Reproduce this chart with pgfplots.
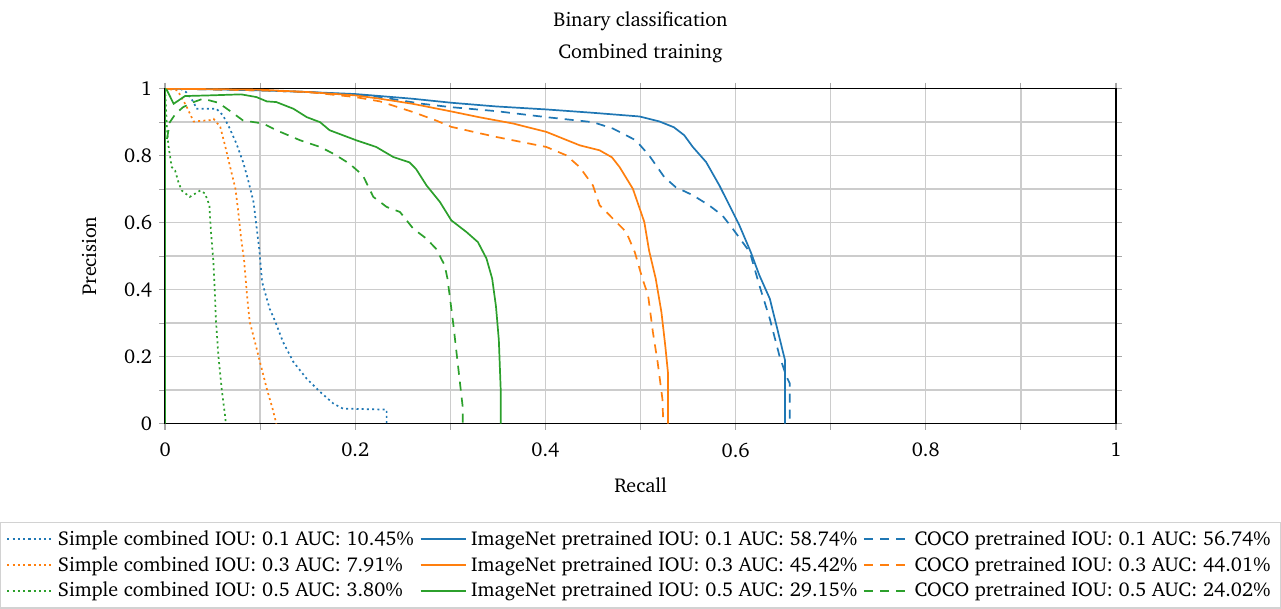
\documentclass[border=0pt]{standalone}
\usepackage[T1]{fontenc}
\renewcommand{\rmdefault}{bch}
\usepackage{pgfplots}
\pgfplotsset{compat=1.18}
\definecolor{cblue}{HTML}{1F77B4}
\definecolor{corange}{HTML}{FF7F0E}
\definecolor{cgreen}{HTML}{2CA02C}
\begin{document}
\begin{tikzpicture}
\begin{axis}[
  scale only axis,
  width=474pt, height=167pt,
  xmin=0, xmax=1, ymin=0, ymax=1,
  xtick={0,0.2,0.4,0.6,0.8,1},
  ytick={0,0.2,0.4,0.6,0.8,1},
  minor xtick={0.1,0.3,0.5,0.7,0.9},
  minor ytick={0.1,0.3,0.5,0.7,0.9},
  xticklabels={0,0.2,0.4,0.6,0.8,1},
  yticklabels={0,0.2,0.4,0.6,0.8,1},
  grid=both,
  grid style={gray!40, line width=0.7pt},
  minor grid style={gray!40, line width=0.7pt},
  tick align=outside,
  major tick length=3pt, minor tick length=3pt,
  tick style={gray!70, line width=0.6pt},
  axis line style={black, line width=0.6pt},
  /pgf/number format/assume math mode=true,
  xticklabel style={yshift=-3pt},
  xlabel={Recall}, ylabel={Precision},
  xlabel style={yshift=-3pt},
  ylabel style={yshift=7pt},
  title={Binary classification\\[4pt]Combined training},
  title style={align=center, inner sep=6pt, yshift=0.5pt},
  legend cell align=left,
  legend columns=3,
  legend image code/.code={\draw[mark repeat=2,mark phase=2] plot coordinates {(0cm,0cm) (0.4cm,0cm) (0.8cm,0cm)};},
  legend style={at={(0.5,-0.2925)}, anchor=north, draw=gray!35, line width=0.6pt,
    /tikz/every odd column/.append style={column sep=0pt},
    /tikz/every even column/.append style={column sep=1pt}},
  every axis plot/.append style={line width=0.85pt},
]
% IOU 0.1
\addplot[cblue, dash pattern=on 1pt off 1.6pt] coordinates {(0,1) (0.016,1) (0.022,0.99) (0.03,0.96) (0.033,0.94) (0.054,0.94) (0.061,0.92) (0.068,0.881) (0.075,0.836) (0.082,0.781) (0.087,0.731) (0.093,0.662) (0.096,0.592) (0.099,0.522) (0.102,0.423) (0.105,0.393) (0.11,0.343) (0.116,0.304) (0.124,0.244) (0.135,0.184) (0.149,0.134) (0.163,0.095) (0.177,0.06) (0.187,0.045) (0.233,0.042) (0.233,0)};
\addlegendentry{Simple combined IOU: 0.1 AUC: 10.45\%}
\addplot[cblue] coordinates {(0,1) (0.05,0.998) (0.1,0.995) (0.15,0.99) (0.2,0.984) (0.226,0.978) (0.26,0.97) (0.301,0.958) (0.348,0.947) (0.401,0.938) (0.45,0.928) (0.499,0.917) (0.52,0.902) (0.535,0.885) (0.546,0.861) (0.555,0.826) (0.569,0.781) (0.583,0.711) (0.597,0.632) (0.604,0.592) (0.616,0.512) (0.625,0.443) (0.636,0.373) (0.643,0.293) (0.652,0.189) (0.652,0)};
\addlegendentry{ImageNet pretrained IOU: 0.1 AUC: 58.74\%}
\addplot[cblue, dash pattern=on 4.5pt off 3.5pt] coordinates {(0,1) (0.1,0.995) (0.15,0.99) (0.2,0.982) (0.226,0.975) (0.27,0.955) (0.3,0.945) (0.348,0.933) (0.401,0.915) (0.45,0.9) (0.471,0.881) (0.495,0.846) (0.509,0.801) (0.525,0.736) (0.537,0.706) (0.555,0.682) (0.572,0.652) (0.586,0.622) (0.597,0.582) (0.615,0.512) (0.625,0.413) (0.636,0.313) (0.646,0.204) (0.653,0.144) (0.657,0.12) (0.657,0)};
\addlegendentry{COCO pretrained IOU: 0.1 AUC: 56.74\%}
% IOU 0.3
\addplot[corange, dash pattern=on 1pt off 1.6pt] coordinates {(0,1) (0.013,0.995) (0.022,0.95) (0.03,0.902) (0.047,0.906) (0.051,0.91) (0.058,0.886) (0.063,0.831) (0.068,0.771) (0.074,0.701) (0.077,0.632) (0.08,0.552) (0.083,0.49) (0.0865,0.373) (0.089,0.304) (0.0945,0.244) (0.0998,0.184) (0.107,0.104) (0.113,0.045) (0.117,0)};
\addlegendentry{Simple combined IOU: 0.3 AUC: 7.91\%}
\addplot[corange] coordinates {(0,1) (0.1,0.997) (0.15,0.99) (0.2,0.98) (0.226,0.97) (0.26,0.955) (0.301,0.932) (0.33,0.915) (0.366,0.896) (0.401,0.871) (0.436,0.831) (0.457,0.816) (0.47,0.795) (0.478,0.766) (0.492,0.701) (0.504,0.602) (0.509,0.517) (0.516,0.433) (0.522,0.333) (0.526,0.234) (0.529,0.149) (0.529,0)};
\addlegendentry{ImageNet pretrained IOU: 0.3 AUC: 45.42\%}
\addplot[corange, dash pattern=on 4.5pt off 3.5pt] coordinates {(0,1) (0.1,0.995) (0.15,0.99) (0.2,0.975) (0.226,0.962) (0.261,0.93) (0.285,0.905) (0.301,0.886) (0.348,0.856) (0.401,0.826) (0.422,0.801) (0.436,0.766) (0.45,0.711) (0.457,0.652) (0.471,0.612) (0.485,0.572) (0.494,0.512) (0.502,0.433) (0.508,0.383) (0.513,0.274) (0.518,0.184) (0.523,0.075) (0.524,0)};
\addlegendentry{COCO pretrained IOU: 0.3 AUC: 44.01\%}
% IOU 0.5
\addplot[cgreen, dash pattern=on 1pt off 1.6pt] coordinates {(0,1) (0.002,0.88) (0.0035,0.83) (0.007,0.766) (0.0105,0.756) (0.014,0.721) (0.0175,0.696) (0.026,0.677) (0.037,0.696) (0.042,0.687) (0.0466,0.652) (0.048,0.582) (0.0508,0.483) (0.0518,0.423) (0.0536,0.304) (0.056,0.204) (0.0595,0.104) (0.063,0.025) (0.064,0)};
\addlegendentry{Simple combined IOU: 0.5 AUC: 3.80\%}
\addplot[cgreen] coordinates {(0,0) (0,1) (0.002,0.995) (0.009,0.955) (0.021,0.978) (0.047,0.98) (0.08,0.983) (0.096,0.975) (0.107,0.962) (0.117,0.96) (0.135,0.94) (0.149,0.915) (0.163,0.9) (0.173,0.876) (0.201,0.846) (0.222,0.826) (0.24,0.796) (0.257,0.78) (0.264,0.76) (0.275,0.711) (0.289,0.662) (0.301,0.607) (0.317,0.572) (0.329,0.542) (0.338,0.493) (0.344,0.433) (0.348,0.35) (0.351,0.25) (0.353,0.1) (0.353,0)};
\addlegendentry{ImageNet pretrained IOU: 0.5 AUC: 29.15\%}
\addplot[cgreen, dash pattern=on 4.5pt off 3.5pt] coordinates {(0.002,0.85) (0.005,0.9) (0.011,0.925) (0.019,0.945) (0.03,0.96) (0.04,0.97) (0.056,0.958) (0.07,0.93) (0.082,0.905) (0.103,0.896) (0.117,0.876) (0.142,0.846) (0.163,0.826) (0.177,0.806) (0.194,0.776) (0.208,0.741) (0.219,0.677) (0.233,0.647) (0.247,0.632) (0.261,0.582) (0.275,0.552) (0.285,0.522) (0.294,0.473) (0.297,0.433) (0.303,0.3) (0.307,0.2) (0.311,0.1) (0.313,0.05) (0.313,0)};
\addlegendentry{COCO pretrained IOU: 0.5 AUC: 24.02\%}
\end{axis}
\end{tikzpicture}
\end{document}
